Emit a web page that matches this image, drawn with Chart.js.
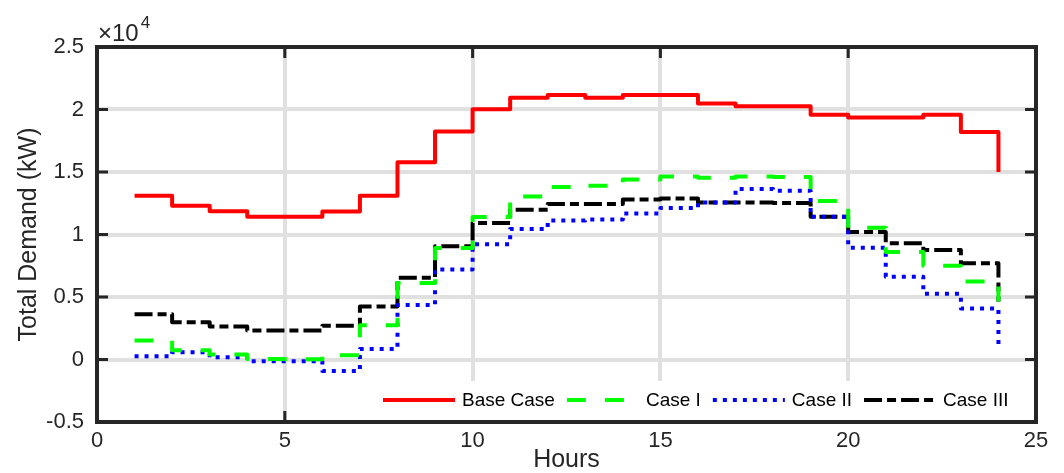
<!DOCTYPE html>
<html>
<head>
<meta charset="utf-8">
<script src="https://cdn.jsdelivr.net/npm/chart.js@4"></script>
<style>
  html, body { margin: 0; padding: 0; background: #fff; }
  #wrap { width: 1064px; height: 473px; position: relative; }
</style>
</head>
<body>
<div id="wrap"><canvas id="demandChart"></canvas></div>
<script>
// hourly demand, kW (stairs: each value holds until the next hour)
const hours = [1, 2, 3, 4, 5, 6, 7, 8, 9, 10, 11, 12, 13, 14, 15, 16, 17, 18, 19, 20, 21, 22, 23, 24]
const baseCase = [13100, 12300, 11870, 11430, 11430, 11840, 13100, 15780, 18240, 20030, 20950, 21160,
  20950, 21160, 21160, 20480, 20260, 20260, 19580, 19370, 19370, 19580, 18200, 15000]
const caseI = [1530, 740, 395, 50, 30, 340, 2750, 6130, 8920, 11400, 13040, 13800,
  13900, 14400, 14650, 14550, 14650, 14600, 12680, 10540, 8610, 7500, 6250, 4650]
const caseII = [260, 580, 185, -130, -130, -920, 850, 4370, 7200, 9220, 10450, 11120,
  11200, 11680, 12120, 12560, 13650, 13500, 11430, 8940, 6620, 5270, 4080, 1080]
const caseIII = [3620, 2990, 2650, 2330, 2330, 2700, 4240, 6540, 9060, 10920, 11990, 12450,
  12450, 12800, 12880, 12560, 12560, 12520, 11430, 10200, 9300, 8770, 7710, 4650]

const xTicks = [0, 5, 10, 15, 20, 25]
const yTicks = [-0.5, 0, 0.5, 1, 1.5, 2, 2.5] // x 10^4
const yScaleExp = 4

const AXIS = '#262626'
const FONT = '"Liberation Sans", Arial, Helvetica, sans-serif'
const TICK_LEN = 11

const toPoints = (vals) => hours.map((h, i) => ({x: h, y: vals[i]}))

function series(label, vals, color, dash) {
  return {
    label: label,
    data: toPoints(vals),
    borderColor: color,
    backgroundColor: color,
    borderWidth: 4,
    borderDash: dash,
    borderCapStyle: 'butt',
    borderJoinStyle: 'round',
    stepped: true,
    pointRadius: 0,
    fill: false
  }
}

// box, inward ticks, legend and the exponent note
const matlabFrame = {
  id: 'matlabFrame',
  afterDatasetsDraw(chart) {
    const {ctx, chartArea: a, scales: {x, y}} = chart
    ctx.save()

    ctx.strokeStyle = AXIS
    ctx.lineWidth = 3
    ctx.setLineDash([])
    ctx.beginPath()
    x.ticks.forEach(t => {
      const px = x.getPixelForValue(t.value)
      ctx.moveTo(px, a.top); ctx.lineTo(px, a.top + TICK_LEN)
      ctx.moveTo(px, a.bottom); ctx.lineTo(px, a.bottom - TICK_LEN)
    })
    y.ticks.forEach(t => {
      const py = y.getPixelForValue(t.value)
      ctx.moveTo(a.left, py); ctx.lineTo(a.left + TICK_LEN, py)
      ctx.moveTo(a.right, py); ctx.lineTo(a.right - TICK_LEN, py)
    })
    ctx.stroke()

    // legend row inside the axes, bottom right
    ctx.font = '19px ' + FONT
    ctx.textBaseline = 'middle'
    const lineLen = 72, cy = 400
    let cx = 383
    const items = chart.data.datasets.map(ds => {
      const it = {ds: ds, x: cx, w: ctx.measureText(ds.label).width}
      cx += lineLen + 7 + it.w + 12
      return it
    })
    ctx.fillStyle = '#fff'
    ctx.fillRect(items[0].x - 8, cy - 19, cx - items[0].x + 6, a.bottom - (cy - 19))
    items.forEach(it => {
      ctx.strokeStyle = it.ds.borderColor
      ctx.lineWidth = it.ds.borderWidth
      ctx.lineCap = 'butt'
      ctx.setLineDash(it.ds.borderDash || [])
      ctx.beginPath()
      ctx.moveTo(it.x, cy); ctx.lineTo(it.x + lineLen, cy)
      ctx.stroke()
      ctx.setLineDash([])
      ctx.fillStyle = '#000'
      ctx.textAlign = 'left'
      ctx.fillText(it.ds.label, it.x + lineLen + 7, cy + 1)
    })

    ctx.strokeStyle = AXIS
    ctx.lineWidth = 4
    ctx.strokeRect(a.left, a.top, a.right - a.left, a.bottom - a.top)

    // axis multiplier above the y axis
    ctx.fillStyle = AXIS
    ctx.textBaseline = 'alphabetic'
    ctx.textAlign = 'left'
    ctx.font = '24px ' + FONT
    ctx.fillText('\u00d710', a.left + 1, a.top - 6)
    const w = ctx.measureText('\u00d710').width
    ctx.font = '17px ' + FONT
    ctx.fillText(String(yScaleExp), a.left + 3 + w, a.top - 19)
    ctx.restore()
  }
}

new Chart(document.getElementById('demandChart'), {
  type: 'line',
  data: {
    datasets: [
      series('Base Case', baseCase, '#ff0000', []),
      series('Case I', caseI, '#00ff00', [19, 19]),
      series('Case II', caseII, '#0000ff', [4, 6]),
      series('Case III', caseIII, '#000000', [18, 5, 9, 5])
    ]
  },
  options: {
    responsive: true,
    maintainAspectRatio: false,
    animation: false,
    layout: {padding: {top: 47, right: 28, left: 0, bottom: 0}},
    plugins: {
      legend: {display: false},
      tooltip: {enabled: false}
    },
    scales: {
      x: {
        type: 'linear',
        min: 0,
        max: 25,
        afterBuildTicks: (s) => { s.ticks = xTicks.map(v => ({value: v})) },
        afterFit: (s) => { s.height = 51 },
        grid: {color: '#e0e0e0', lineWidth: 4, drawTicks: false},
        border: {display: false},
        ticks: {
          padding: 6,
          color: AXIS,
          font: {family: FONT, size: 22},
          callback: (v) => String(v)
        },
        title: {
          display: true,
          text: 'Hours',
          color: AXIS,
          font: {family: FONT, size: 25, lineHeight: 1},
          padding: {top: 0, bottom: 0}
        }
      },
      y: {
        min: yTicks[0] * 10 ** yScaleExp,
        max: yTicks[yTicks.length - 1] * 10 ** yScaleExp,
        afterBuildTicks: (s) => { s.ticks = yTicks.map(v => ({value: v * 10 ** yScaleExp})) },
        afterFit: (s) => { s.width = 97 },
        grid: {color: '#e0e0e0', lineWidth: 4, drawTicks: false},
        border: {display: false},
        ticks: {
          padding: 13,
          color: AXIS,
          font: {family: FONT, size: 22},
          callback: (v) => String(v / 10 ** yScaleExp)
        },
        title: {
          display: true,
          text: 'Total Demand (kW)',
          color: AXIS,
          font: {family: FONT, size: 25, lineHeight: 1},
          padding: {top: 17, bottom: 0}
        }
      }
    }
  },
  plugins: [matlabFrame]
})
</script>
</body>
</html>
